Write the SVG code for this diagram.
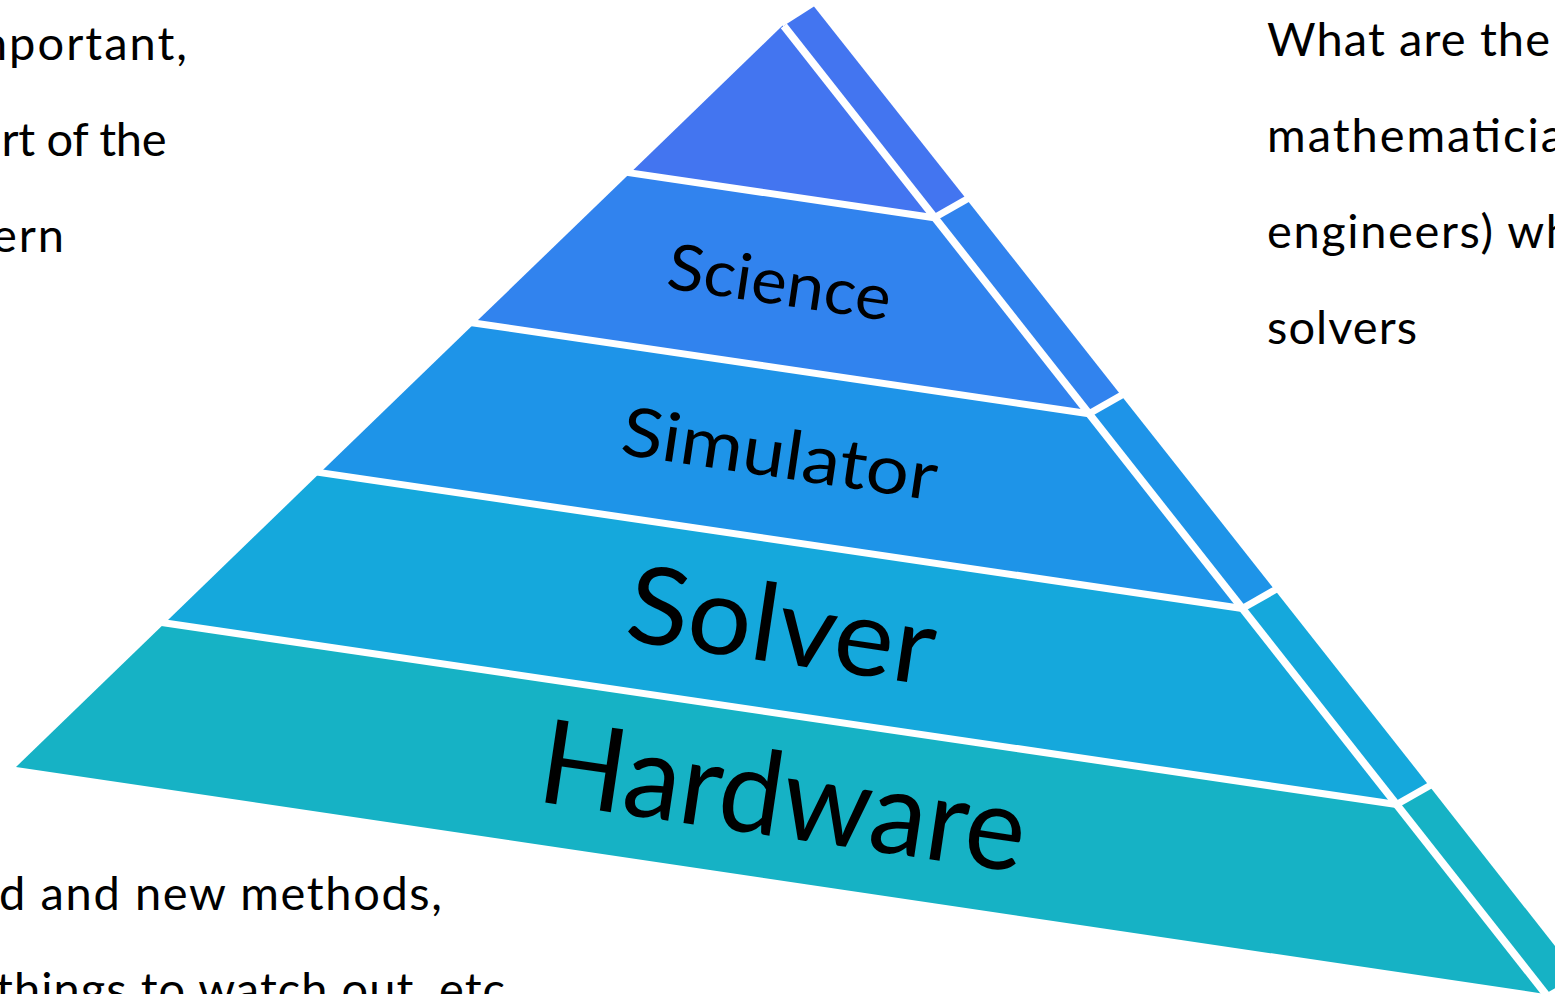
<svg xmlns="http://www.w3.org/2000/svg" width="1555" height="994" viewBox="0 0 1555 994">
<style>
.sep{stroke:#fff;stroke-width:7;fill:none;stroke-linecap:butt}
.edge{stroke:#fff;stroke-width:7.6;fill:none;stroke-linecap:butt}
.para{font-family:Lato,"Liberation Sans",sans-serif;font-size:47px;fill:#000}
.lbl{font-family:Lato,"Liberation Sans",sans-serif;fill:#000}
.c1{fill:#4375F0}.c2{fill:#3183EE}.c3{fill:#1E94E8}.c4{fill:#15A8DC}.c5{fill:#16B2C5}
</style>
<rect width="1555" height="994" fill="#fff"/>
<g id="layer-top">
<polygon class="c1" points="782.6,25.5 934.2,217.7 630.2,172.9"/>
<polygon class="c1" points="783.8,25.8 814,6.5 966.5,199.3 934.2,217.7"/>
</g>
<g id="layer-science">
<polygon class="c2" points="630.2,172.9 934.2,217.7 1089,413.7 474.9,323.1"/>
<polygon class="c2" points="934.2,217.7 966.5,199.3 1121.2,395.4 1089,413.7"/>
<text class="lbl" x="665" y="288" font-size="64" textLength="225" lengthAdjust="spacingAndGlyphs" transform="rotate(8.4 665 288)">Science</text>
</g>
<g id="layer-simulator">
<polygon class="c3" points="474.9,323.1 1089,413.7 1242.3,608.5 320.3,472.6"/>
<polygon class="c3" points="1089,413.7 1121.2,395.4 1274.8,590 1242.3,608.5"/>
<text class="lbl" x="619" y="454" font-size="68" textLength="318" lengthAdjust="spacingAndGlyphs" transform="rotate(8.4 619 454)">Simulator</text>
</g>
<g id="layer-solver">
<polygon class="c4" points="320.3,472.6 1242.3,608.5 1396.6,804.5 164.9,622.9"/>
<polygon class="c4" points="1242.3,608.5 1274.8,590 1429.3,785.9 1396.6,804.5"/>
<text class="lbl" x="623" y="640" font-size="108" textLength="310" lengthAdjust="spacingAndGlyphs" transform="rotate(8.4 623 640)">Solver</text>
</g>
<g id="layer-hardware">
<polygon class="c5" points="164.9,622.9 1396.6,804.5 1545,993.9 16,767"/>
<polygon class="c5" points="1396.6,804.5 1429.3,785.9 1578,975.4 1545,993.9"/>
<text class="lbl" x="535" y="801" font-size="117" textLength="490" lengthAdjust="spacingAndGlyphs" transform="rotate(8.4 535 801)">Hardware</text>
</g>
<g id="separators">
<line class="edge" x1="783.8" y1="25.8" x2="1550.4" y2="1000"/>
<line class="sep" x1="620" y1="171.4" x2="934.2" y2="217.7"/>
<line class="sep" x1="465" y1="321.7" x2="1089" y2="413.7"/>
<line class="sep" x1="310" y1="471.1" x2="1242.3" y2="608.5"/>
<line class="sep" x1="155" y1="621.5" x2="1396.6" y2="804.5"/>
<line class="sep" x1="934.2" y1="217.7" x2="973.3" y2="195.5"/>
<line class="sep" x1="1089" y1="413.7" x2="1128.1" y2="391.5"/>
<line class="sep" x1="1242.3" y1="608.5" x2="1281.4" y2="586.3"/>
<line class="sep" x1="1396.6" y1="804.5" x2="1435.7" y2="782.3"/>
</g>
<g id="left-notes">
<text class="para" x="-31.6" y="60" textLength="218.6">mportant,</text>
<text class="para" x="1.5" y="156" textLength="165">rt of the</text>
<text class="para" x="-8" y="252" textLength="72">ern</text>
<text class="para" x="-1" y="910" textLength="443">d and new methods,</text>
<text class="para" x="-4" y="1006" textLength="509">things to watch out, etc</text>
</g>
<g id="right-notes">
<text class="para" x="1267" y="56" textLength="283">What are the</text>
<text class="para" x="1267" y="152" textLength="297">mathematicia</text>
<text class="para" x="1267" y="248" textLength="305">engineers) wh</text>
<text class="para" x="1267" y="344" textLength="150">solvers</text>
</g>
</svg>
